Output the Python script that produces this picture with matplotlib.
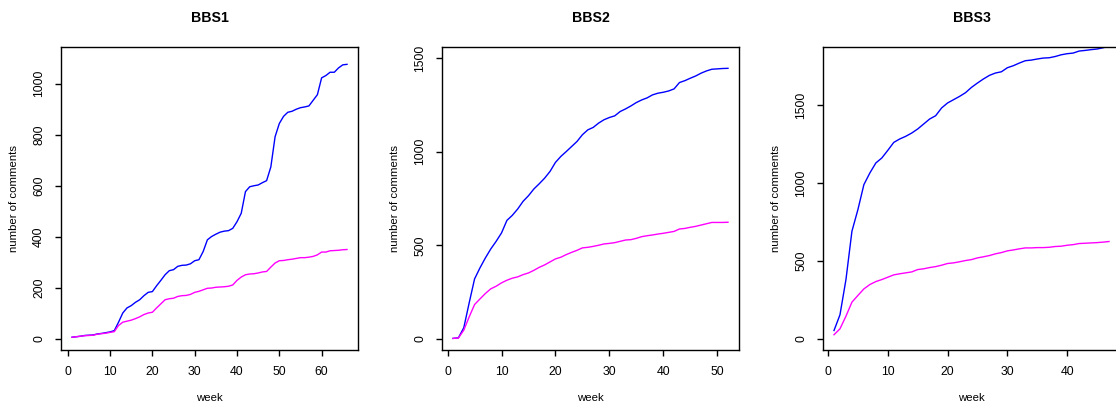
import numpy as np
import matplotlib
matplotlib.use("Agg")
import matplotlib.pyplot as plt

plt.rcParams['font.family'] = ['Liberation Sans', 'DejaVu Sans']

# weekly cumulative comment counts
bbs1_weeks = np.arange(1, 67)
bbs1_blue = [6, 8, 10, 13, 14, 15, 19, 21, 24, 27, 32, 65, 101, 121, 130, 143, 153, 169, 182, 185,
             208, 229, 251, 267, 271, 284, 288, 289, 294, 306, 310, 342, 388, 401, 410, 418, 422, 424, 433, 459,
             492, 577, 596, 600, 603, 612, 620, 674, 792, 844, 872, 888, 892, 900, 906, 909, 913, 935, 957, 1023,
             1032, 1045, 1045, 1062, 1074, 1076]
bbs1_magenta = [6, 8, 10, 12, 13, 14, 18, 20, 22, 25, 28, 52, 65, 69, 73, 79, 86, 95, 101, 104,
                121, 137, 153, 157, 159, 166, 169, 170, 174, 182, 186, 192, 198, 199, 202, 203, 204, 206, 211, 229,
                242, 251, 254, 255, 258, 262, 264, 281, 297, 306, 307, 310, 312, 315, 318, 318, 320, 323, 329, 340,
                340, 345, 346, 347, 349, 350]

bbs2_weeks = np.arange(1, 53)
bbs2_blue = [2, 5, 59, 192, 320, 379, 432, 480, 521, 566, 633, 660, 694, 735, 765, 801, 829, 859, 895, 943,
             975, 1001, 1028, 1055, 1091, 1117, 1130, 1153, 1171, 1183, 1192, 1215, 1229, 1245, 1263, 1277, 1288, 1304, 1313, 1318,
             1325, 1336, 1370, 1380, 1393, 1405, 1420, 1432, 1441, 1443, 1445, 1446]
bbs2_magenta = [2, 4, 46, 117, 183, 213, 242, 267, 281, 299, 313, 324, 331, 343, 352, 366, 382, 395, 411, 427,
                436, 450, 462, 473, 486, 489, 494, 500, 507, 510, 514, 521, 528, 530, 537, 546, 551, 555, 560, 564,
                569, 574, 587, 590, 596, 601, 608, 615, 622, 622, 622, 623]

bbs3_weeks = np.arange(1, 48)
bbs3_blue = [53, 154, 380, 690, 829, 989, 1064, 1128, 1160, 1209, 1260, 1282, 1299, 1320, 1346, 1378, 1410, 1431, 1481, 1513,
             1534, 1555, 1579, 1613, 1641, 1667, 1690, 1705, 1713, 1739, 1752, 1769, 1784, 1788, 1795, 1801, 1803, 1811, 1822, 1829,
             1833, 1846, 1850, 1855, 1859, 1867, 1878]
bbs3_magenta = [26, 64, 145, 235, 278, 320, 348, 367, 380, 395, 410, 417, 423, 429, 444, 449, 457, 463, 472, 483,
                487, 494, 502, 508, 519, 526, 534, 545, 553, 564, 570, 577, 583, 583, 585, 585, 587, 592, 594, 600,
                604, 611, 613, 615, 617, 620, 624]

titles = ["BBS1", "BBS2", "BBS3"]
y_tops = [1100, 1500, 1800]
x_ticks = [np.arange(0, 70, 10), np.arange(0, 60, 10), np.arange(0, 50, 10)]
y_ticks = [np.arange(0, 1200, 200), np.arange(0, 2000, 500), np.arange(0, 2000, 500)]

panels = [(bbs1_weeks, bbs1_blue, bbs1_magenta),
          (bbs2_weeks, bbs2_blue, bbs2_magenta),
          (bbs3_weeks, bbs3_blue, bbs3_magenta)]

W, H = 1116, 407
fig = plt.figure(figsize=(W / 100, H / 100), dpi=100)

# plot boxes in pixels: left edges, width, top, bottom (third box runs off the right edge)
lefts = [61, 442, 823]
box_w, box_top, box_bot = 297, 47, 350

for i, (weeks, blue, magenta) in enumerate(panels):
    ax = fig.add_axes([lefts[i] / W, (H - box_bot) / H, box_w / W, (box_bot - box_top) / H])
    ax.plot(weeks, blue, color='blue', lw=1.0)
    ax.plot(weeks, magenta, color='magenta', lw=1.0)

    # R-style 4% padding
    xr = weeks[-1] - weeks[0]
    ax.set_xlim(weeks[0] - 0.04 * xr, weeks[-1] + 0.04 * xr)
    ax.set_ylim(-0.04 * y_tops[i], 1.04 * y_tops[i])

    ax.set_xticks(x_ticks[i])
    ax.set_yticks(y_ticks[i])
    ax.tick_params(direction='out', length=4, width=1.0, labelsize=8.8, color='black')
    ax.tick_params(axis='x', pad=7.5)
    ax.tick_params(axis='y', pad=7.5)
    plt.setp(ax.get_yticklabels(), rotation=90, va='center')
    for s in ax.spines.values():
        s.set_linewidth(1.0)

    ax.text(0.5, 1 + 28.5 / 303, titles[i], transform=ax.transAxes, ha='center', va='center',
            fontsize=10.2, fontweight='bold')
    ax.text(0.5, -48 / 303, "week", transform=ax.transAxes, ha='center', va='center', fontsize=8.2)
    ax.text(-47 / box_w, 0.5, "number of comments", transform=ax.transAxes, ha='center', va='center',
            rotation=90, fontsize=8.2)

fig.savefig("out.png", dpi=100)
